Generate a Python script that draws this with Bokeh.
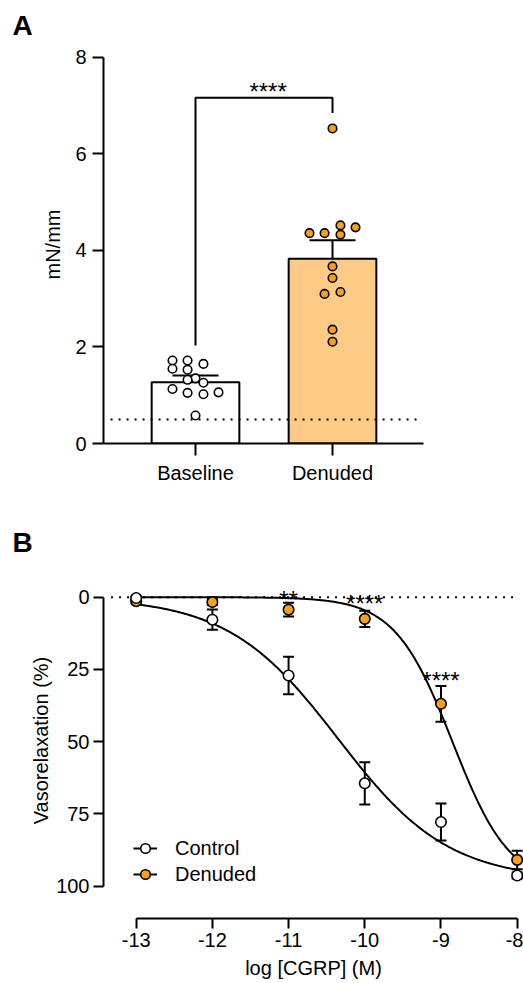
import numpy as np
from bokeh.plotting import figure
from bokeh.models import (Range1d, FixedTicker, Whisker, TeeHead, Legend,
                          LegendItem, ColumnDataSource, Title)
from bokeh.layouts import column
from bokeh.embed import file_html
from bokeh.resources import INLINE
from bokeh.core.properties import value

FONT = "Liberation Sans"

# ---------------- Panel A data ----------------
groups = ["Baseline", "Denuded"]
group_means = [1.27, 3.83]
group_sems = [0.14, 0.38]
baseline_values = [1.35, 1.72, 1.72, 1.65, 1.55, 1.53, 1.32, 1.26, 1.13, 1.05, 1.02, 1.06, 0.58]
baseline_jitter = [0.0, -0.168, -0.058, 0.058, -0.168, -0.058, -0.058, 0.058, -0.168, -0.058, 0.058, 0.168, 0.0]
denuded_values = [6.53, 4.36, 4.36, 4.52, 4.33, 4.48, 3.67, 3.43, 3.10, 3.14, 2.36, 2.11]
denuded_jitter = [0.0, -0.168, -0.058, 0.058, 0.058, 0.168, 0.0, 0.0, -0.058, 0.058, 0.0, 0.0]
threshold_a = 0.5
yticks_a = [0, 2, 4, 6, 8]
sig_a = "****"

# ---------------- Panel B data ----------------
log_conc = [-13, -12, -11, -10, -9, -8]
xtick_labels_b = ["-13", "-12", "-11", "-10", "-9", "-8"]
control_mean = [0.3, 7.8, 27.1, 64.4, 77.8, 96.3]
control_sem = [0.5, 3.5, 6.5, 7.3, 6.4, 1.0]
denuded_mean = [1.4, 1.7, 4.3, 7.5, 36.9, 90.9]
denuded_sem = [0.5, 1.0, 2.4, 2.8, 6.2, 3.2]
control_fit = dict(bottom=0.0, top=98.0, log_ec50=-10.35, hill=0.6)
denuded_fit = dict(bottom=0.0, top=100.0, log_ec50=-8.85, hill=1.15)
yticks_b = [0, 25, 50, 75, 100]
sig_x = [-11, -10, -9]
sig_labels = ["**", "****", "****"]
sig_level = [-0.6, 0.8, 27.4]

ORANGE = "#F7A11C"
LIGHT_ORANGE = "#FDCB85"


def style_axes(p):
    for ax in (p.xaxis[0], p.yaxis[0]):
        ax.axis_line_width = 2
        ax.axis_line_color = "black"
        ax.major_tick_line_width = 2
        ax.major_tick_line_color = "black"
        ax.major_tick_in = 0
        ax.minor_tick_line_color = None
        ax.major_label_text_font = FONT
        ax.major_label_text_font_size = "20px"
        ax.major_label_text_color = "black"
        ax.axis_label_text_font = FONT
        ax.axis_label_text_font_size = "20px"
        ax.axis_label_text_font_style = "normal"
        ax.axis_label_text_color = "black"
    p.xgrid.visible = False
    p.ygrid.visible = False
    p.outline_line_color = None
    p.background_fill_color = "white"
    p.border_fill_color = "white"


def panel_title(letter):
    return Title(text=letter, align="left", offset=-91, standoff=10,
                 text_font=FONT, text_font_size="28px", text_font_style="bold",
                 text_color="black")


# ================= Panel A =================
pa = figure(width=523, height=500, output_backend="svg", toolbar_location=None,
            x_range=Range1d(-0.6715, 2.394), y_range=Range1d(0, 8.2487),
            min_border_left=103, min_border_right=0, min_border_top=45,
            min_border_bottom=57, title=panel_title("A"))
style_axes(pa)
pa.yaxis.ticker = FixedTicker(ticks=yticks_a)
pa.yaxis.bounds = (0, 8)
pa.yaxis.major_tick_out = 11
pa.yaxis.major_label_standoff = 6
pa.yaxis.axis_label = "mN/mm"
pa.yaxis.axis_label_standoff = 8
pa.xaxis.ticker = FixedTicker(ticks=[0, 1])
pa.xaxis.major_label_overrides = {0: groups[0], 1: groups[1]}
pa.xaxis.bounds = (-0.6715, 1.664)
pa.xaxis.major_tick_out = 12
pa.xaxis.major_label_standoff = 6

pa.vbar(x=[0, 1], width=0.64, top=group_means, bottom=0,
        fill_color=["white", LIGHT_ORANGE], line_color="black", line_width=2)
pa.line(x=[-0.62, 1.642], y=[threshold_a, threshold_a], line_color="black",
        line_width=2, line_dash="2 6")
pa.scatter(x=[j for j in baseline_jitter], y=baseline_values, marker="circle", size=8.5,
           fill_color="white", line_color="black", line_width=1.6)
pa.scatter(x=[1 + j for j in denuded_jitter], y=denuded_values, marker="circle", size=8.5,
           fill_color=ORANGE, line_color="black", line_width=1.6)
src_a = ColumnDataSource(dict(x=[0, 1], lower=group_means,
                              upper=[m + s for m, s in zip(group_means, group_sems)]))
pa.add_layout(Whisker(source=src_a, base="x", lower="lower", upper="upper",
                      dimension="height", line_width=2, line_color="black",
                      upper_head=TeeHead(size=46, line_width=2, line_color="black"),
                      lower_head=None))
# significance bracket
br_y = 7.165
pa.line(x=[0, 0, 1, 1], y=[2.03, br_y, br_y, 6.85], line_color="black", line_width=2)
pa.text(x=[0.53], y=[br_y + 0.12], text=[sig_a], text_align="center",
        text_baseline="alphabetic", text_font=value(FONT), text_font_size="24px",
        text_color="black")

# ================= Panel B =================
pb = figure(width=523, height=483, output_backend="svg", toolbar_location=None,
            x_range=Range1d(-13.429, -7.917), y_range=Range1d(111.18, -12.0),
            min_border_left=103, min_border_right=0, min_border_top=62,
            min_border_bottom=65, title=panel_title("B"))
style_axes(pb)
pb.yaxis.ticker = FixedTicker(ticks=yticks_b)
pb.yaxis.bounds = (0, 100)
pb.yaxis.major_tick_out = 10
pb.yaxis.major_label_standoff = 4
pb.yaxis.axis_label = "Vasorelaxation (%)"
pb.yaxis.axis_label_standoff = 1
pb.xaxis.ticker = FixedTicker(ticks=log_conc)
pb.xaxis.major_label_overrides = {t: s for t, s in zip(log_conc, xtick_labels_b)}
pb.xaxis.bounds = (-13, -8)
pb.xaxis.major_tick_out = 10
pb.xaxis.major_label_standoff = 4
pb.xaxis.axis_label = "log [CGRP] (M)"
pb.xaxis.axis_label_standoff = 7


def logistic(x, f):
    return f["bottom"] + (f["top"] - f["bottom"]) / (1 + 10 ** ((f["log_ec50"] - x) * f["hill"]))


xs = np.linspace(log_conc[0], log_conc[-1], 300)
pb.line(x=[-13.33, -8.05], y=[0, 0], line_color="black", line_width=2, line_dash="2 6")
curve_c = pb.line(x=xs, y=logistic(xs, control_fit), line_color="black", line_width=2)
curve_d = pb.line(x=xs, y=logistic(xs, denuded_fit), line_color="black", line_width=2)

for mean, sem in ((denuded_mean, denuded_sem), (control_mean, control_sem)):
    src = ColumnDataSource(dict(x=log_conc, lower=[m - s for m, s in zip(mean, sem)],
                                upper=[m + s for m, s in zip(mean, sem)]))
    pb.add_layout(Whisker(source=src, base="x", lower="lower", upper="upper",
                          dimension="height", line_width=2, line_color="black",
                          upper_head=TeeHead(size=11, line_width=2, line_color="black"),
                          lower_head=TeeHead(size=11, line_width=2, line_color="black")))

pts_d = pb.scatter(x=log_conc, y=denuded_mean, marker="circle", size=10.5, fill_color=ORANGE,
                   line_color="black", line_width=1.6)
pts_c = pb.scatter(x=log_conc, y=control_mean, marker="circle", size=10.5, fill_color="white",
                   line_color="black", line_width=1.6)

pb.text(x=sig_x, y=[v + 1.4 for v in sig_level], text=sig_labels, text_align="center",
        text_baseline="alphabetic", text_font=value(FONT), text_font_size="24px",
        text_color="black")

legend = Legend(items=[LegendItem(label="Control", renderers=[curve_c, pts_c]),
                       LegendItem(label="Denuded", renderers=[curve_d, pts_d])],
                location=(30, 31), glyph_width=24, glyph_height=26, label_standoff=18,
                spacing=0, padding=0, margin=0, background_fill_alpha=0,
                border_line_color=None, label_text_font=FONT,
                label_text_font_size="20px", label_text_color="black")
pb.add_layout(legend)

layout = column(pa, pb, spacing=0)
with open("out.html", "w") as f:
    f.write(file_html(layout, INLINE))
